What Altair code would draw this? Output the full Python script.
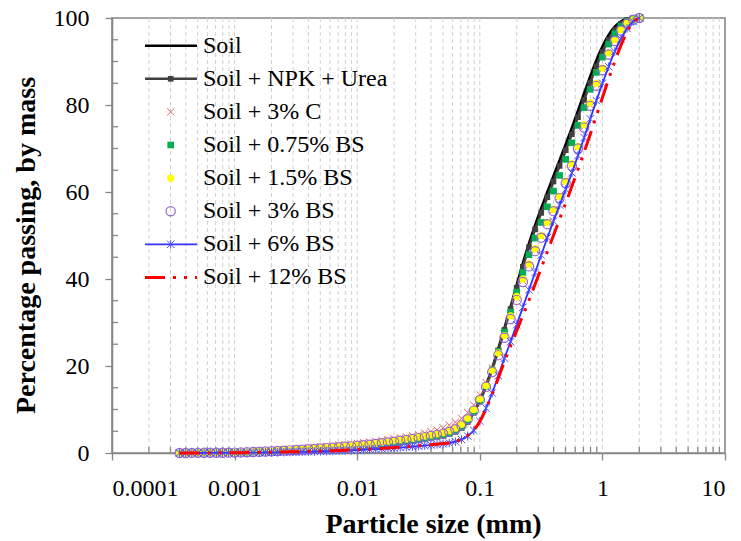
import altair as alt
import pandas as pd

# ---------------- data ----------------
SIZES_MM = [
    0.000356, 0.000399, 0.000448, 0.000502, 0.000564, 0.000632, 0.000710, 0.000796, 0.000893, 0.001002,
    0.001125, 0.001262, 0.001416, 0.001589, 0.001783, 0.002000, 0.002244, 0.002518, 0.002825, 0.003170,
    0.003557, 0.003991, 0.004477, 0.005024, 0.005637, 0.006325, 0.007096, 0.007962, 0.008934, 0.010024,
    0.011247, 0.012619, 0.014159, 0.015887, 0.017825, 0.020000, 0.022440, 0.025179, 0.028251, 0.031698,
    0.035566, 0.039905, 0.044774, 0.050238, 0.056368, 0.063246, 0.070963, 0.079621, 0.089337, 0.100237,
    0.112468, 0.126191, 0.141589, 0.158866, 0.178250, 0.200000, 0.224404, 0.251785, 0.282508, 0.316979,
    0.355656, 0.399052, 0.447744, 0.502377, 0.563677, 0.632456, 0.709627, 0.796214, 0.893367, 1.002374,
    1.124683, 1.261915, 1.415892, 1.588656, 1.782502, 2.000000,
]

SOIL = [
    0, 0.01, 0.02, 0.03, 0.04, 0.05, 0.06, 0.07, 0.08, 0.09,
    0.12, 0.16, 0.20, 0.25, 0.30, 0.36, 0.42, 0.48, 0.55, 0.62,
    0.70, 0.78, 0.86, 0.95, 1.04, 1.13, 1.22, 1.32, 1.42, 1.52,
    1.64, 1.77, 1.90, 2.05, 2.20, 2.36, 2.52, 2.70, 2.88, 3.08,
    3.30, 3.52, 3.76, 4.05, 4.45, 5.00, 5.90, 7.30, 9.40, 12.2,
    15.6, 19.5, 24.0, 28.7, 33.6, 38.6, 43.6, 48.2, 52.4, 56.3,
    60.0, 63.7, 67.3, 71.0, 74.8, 78.7, 82.7, 86.6, 90.3, 93.5,
    96.1, 98.0, 99.2, 99.8, 100, 100,
]

NPK_UREA = [
    0, 0.01, 0.02, 0.03, 0.04, 0.05, 0.06, 0.07, 0.08, 0.09,
    0.12, 0.16, 0.20, 0.25, 0.30, 0.35, 0.41, 0.47, 0.54, 0.61,
    0.68, 0.76, 0.84, 0.92, 1.01, 1.10, 1.19, 1.28, 1.38, 1.48,
    1.60, 1.72, 1.85, 1.99, 2.14, 2.30, 2.46, 2.63, 2.81, 3.00,
    3.20, 3.42, 3.66, 3.94, 4.32, 4.86, 5.75, 7.15, 9.25, 12.0,
    15.3, 19.2, 23.6, 28.3, 33.1, 38.0, 42.8, 47.3, 51.4, 55.2,
    58.8, 62.4, 66.0, 69.6, 73.3, 77.2, 81.2, 85.1, 88.9, 92.2,
    95.0, 97.2, 98.7, 99.5, 99.9, 100,
]

C_3 = [
    0, 0.02, 0.04, 0.06, 0.08, 0.10, 0.12, 0.14, 0.17, 0.20,
    0.25, 0.31, 0.38, 0.45, 0.53, 0.61, 0.70, 0.80, 0.90, 1.01,
    1.12, 1.23, 1.34, 1.46, 1.58, 1.70, 1.82, 1.95, 2.08, 2.22,
    2.38, 2.55, 2.72, 2.90, 3.09, 3.29, 3.50, 3.72, 3.95, 4.20,
    4.60, 4.95, 5.30, 5.80, 6.40, 7.10, 8.00, 9.30, 11.0, 13.4,
    16.2, 19.6, 23.4, 27.3, 31.5, 35.7, 39.6, 43.1, 46.6, 49.8,
    52.9, 55.9, 59.0, 62.4, 66.3, 70.3, 75.0, 80.0, 84.6, 88.2,
    91.8, 94.8, 97.2, 98.7, 99.6, 100,
]

BS_075 = [
    0, 0.01, 0.02, 0.03, 0.04, 0.05, 0.06, 0.07, 0.08, 0.09,
    0.13, 0.17, 0.22, 0.27, 0.32, 0.38, 0.44, 0.50, 0.57, 0.64,
    0.72, 0.80, 0.88, 0.96, 1.05, 1.14, 1.23, 1.33, 1.43, 1.54,
    1.66, 1.79, 1.92, 2.06, 2.21, 2.37, 2.53, 2.70, 2.88, 3.08,
    3.30, 3.53, 3.78, 4.08, 4.50, 5.10, 6.00, 7.40, 9.50, 12.2,
    15.4, 19.1, 23.3, 27.8, 32.4, 37.0, 41.5, 45.6, 49.4, 53.0,
    56.6, 60.2, 63.8, 67.5, 71.3, 75.3, 79.4, 83.6, 87.5, 91.0,
    94.0, 96.4, 98.1, 99.2, 99.8, 100,
]

BS_15 = [
    0, 0.01, 0.02, 0.03, 0.05, 0.06, 0.07, 0.08, 0.09, 0.10,
    0.15, 0.20, 0.26, 0.32, 0.38, 0.44, 0.50, 0.57, 0.65, 0.74,
    0.83, 0.92, 1.00, 1.10, 1.20, 1.30, 1.40, 1.50, 1.62, 1.75,
    1.90, 2.05, 2.20, 2.40, 2.60, 2.80, 3.00, 3.20, 3.40, 3.65,
    3.90, 4.15, 4.40, 4.70, 5.10, 5.70, 6.60, 8.00, 10.0, 12.5,
    15.5, 19.0, 23.0, 27.0, 31.5, 36.0, 40.0, 43.5, 47.0, 50.0,
    53.0, 56.0, 59.0, 62.5, 66.5, 70.5, 75.5, 80.5, 85.0, 88.5,
    92.0, 95.0, 97.3, 98.8, 99.6, 100,
]

BS_3 = [
    0, 0.01, 0.02, 0.03, 0.04, 0.05, 0.06, 0.07, 0.08, 0.09,
    0.13, 0.18, 0.23, 0.29, 0.35, 0.41, 0.47, 0.54, 0.61, 0.69,
    0.77, 0.86, 0.94, 1.03, 1.12, 1.22, 1.32, 1.42, 1.53, 1.65,
    1.78, 1.92, 2.07, 2.24, 2.42, 2.61, 2.80, 3.00, 3.20, 3.42,
    3.65, 3.90, 4.15, 4.45, 4.85, 5.45, 6.35, 7.75, 9.75, 12.2,
    15.2, 18.6, 22.5, 26.5, 30.8, 35.2, 39.3, 42.9, 46.4, 49.5,
    52.6, 55.6, 58.6, 62.0, 66.0, 70.0, 74.8, 79.8, 84.4, 88.0,
    91.6, 94.7, 97.1, 98.7, 99.6, 100,
]

BS_6 = [
    0, 0, 0, 0, 0.01, 0.01, 0.02, 0.02, 0.03, 0.04,
    0.05, 0.06, 0.08, 0.10, 0.12, 0.14, 0.16, 0.19, 0.22, 0.25,
    0.28, 0.31, 0.34, 0.38, 0.42, 0.46, 0.51, 0.56, 0.62, 0.68,
    0.75, 0.82, 0.90, 0.98, 1.07, 1.16, 1.26, 1.36, 1.47, 1.58,
    1.70, 1.82, 1.95, 2.10, 2.30, 2.60, 3.10, 3.90, 5.20, 7.30,
    10.3, 13.8, 17.8, 21.8, 25.6, 29.5, 33.5, 37.5, 41.5, 45.5,
    49.5, 53.3, 57.0, 60.6, 64.4, 68.4, 72.5, 76.8, 81.0, 85.0,
    88.8, 92.3, 95.2, 97.6, 99.2, 100,
]

BS_12 = [
    0, 0, 0.01, 0.01, 0.02, 0.02, 0.03, 0.04, 0.05, 0.06,
    0.07, 0.09, 0.11, 0.13, 0.15, 0.17, 0.20, 0.23, 0.26, 0.29,
    0.32, 0.36, 0.40, 0.44, 0.48, 0.53, 0.58, 0.64, 0.70, 0.76,
    0.83, 0.90, 0.98, 1.06, 1.15, 1.24, 1.34, 1.44, 1.55, 1.66,
    1.78, 1.90, 2.03, 2.18, 2.38, 2.68, 3.18, 3.98, 5.25, 7.30,
    10.2, 13.5, 17.2, 21.0, 24.6, 28.1, 31.6, 35.1, 38.8, 42.5,
    46.3, 50.0, 53.8, 57.5, 61.3, 65.2, 69.2, 73.3, 77.5, 81.8,
    86.0, 90.0, 93.7, 96.8, 99.0, 100,
]

LABELS = [
    "Soil", "Soil + NPK + Urea", "Soil + 3% C", "Soil + 0.75% BS",
    "Soil + 1.5% BS", "Soil + 3% BS", "Soil + 6% BS", "Soil + 12% BS",
]
VALUES = [SOIL, NPK_UREA, C_3, BS_075, BS_15, BS_3, BS_6, BS_12]

X_DECADES = [0.0001, 0.001, 0.01, 0.1, 1, 10]
Y_MAJOR = [0, 20, 40, 60, 80, 100]
Y_MINOR = [5, 10, 15, 25, 30, 35, 45, 50, 55, 65, 70, 75, 85, 90, 95]
X_MINOR = [m * d for d in [0.0001, 0.001, 0.01, 0.1, 1] for m in range(2, 10)]
X_GRID = [v for v in X_MINOR] + [0.001, 0.01, 0.1, 1]

# ---------------- styling ----------------
PLOT_W, PLOT_H = 613, 435
FONT = "Liberation Serif"
FRAME = "#878787"
X_CROSS = "M-1,-1L1,1M-1,1L1,-1"
STAR = "M-1,-1L1,1M-1,1L1,-1M0,-1.15L0,1.15"

# style per series: (line props or None, point props or None)
STYLES = [
    (dict(color="black", strokeWidth=2.6), None),
    (dict(color="#404040", strokeWidth=2.6), dict(shape="square", filled=True, color="#404040", size=32)),
    (None, dict(shape=X_CROSS, filled=False, color="#e46666", size=50, strokeWidth=1)),
    (None, dict(shape="square", filled=True, color="#00b050", size=44)),
    (None, dict(shape="circle", filled=True, color="#ffff00", size=52)),
    (None, dict(shape="circle", filled=False, color="#9966cc", size=85, strokeWidth=1.2)),
    (dict(color="#3333ff", strokeWidth=1.8), dict(shape=STAR, filled=False, color="#4d4dff", size=55, strokeWidth=1)),
    (dict(color="#ff0000", strokeWidth=3, strokeDash=[20, 8, 3, 8, 3, 8]), None),
]

X_ENC = alt.X(
    "x:Q",
    scale=alt.Scale(type="log", domain=[0.0001, 10], nice=False),
    axis=alt.Axis(
        values=X_DECADES, format="~g", title="Particle size (mm)", grid=False,
        tickSize=7, labelPadding=16, titleX=321, titleY=79, titleAlign="center",
        titleBaseline="alphabetic",
    ),
)
Y_ENC = alt.Y(
    "y:Q",
    scale=alt.Scale(domain=[0, 100], nice=False),
    axis=alt.Axis(
        values=Y_MAJOR, title="Percentage passing, by mass", grid=False,
        tickSize=7, labelPadding=16, titleAngle=270, titleX=-78, titleY=227,
        titleAlign="center", titleBaseline="alphabetic",
    ),
)

layers = []

# dashed vertical grid lines
grid_df = pd.DataFrame({"x": X_GRID})
layers.append(
    alt.Chart(grid_df).mark_rule(color="#d0d0d0", strokeWidth=1, strokeDash=[4, 3]).encode(
        x=X_ENC, y=alt.value(0), y2=alt.value(PLOT_H)
    )
)
# inside minor ticks on x
layers.append(
    alt.Chart(pd.DataFrame({"x": X_MINOR})).mark_rule(color=FRAME, strokeWidth=1.3).encode(
        x=X_ENC, y=alt.value(PLOT_H), y2=alt.value(PLOT_H - 6)
    )
)
# inside minor ticks on y
layers.append(
    alt.Chart(pd.DataFrame({"y": Y_MINOR})).mark_rule(color=FRAME, strokeWidth=1.3).encode(
        y=Y_ENC, x=alt.value(0), x2=alt.value(6)
    )
)

for label, vals, (lstyle, pstyle) in zip(LABELS, VALUES, STYLES):
    df = pd.DataFrame({"x": SIZES_MM, "y": vals})
    base = alt.Chart(df)
    if lstyle is not None:
        layers.append(base.mark_line(interpolate="monotone", **lstyle).encode(x=X_ENC, y=Y_ENC))
    if pstyle is not None:
        layers.append(base.mark_point(opacity=1, **pstyle).encode(x=X_ENC, y=Y_ENC))

# ---------------- legend (drawn by hand inside the plot) ----------------
LEG_TOP, LEG_STEP = 27.7, 33.1
LEG_X0, LEG_X1, LEG_XM, LEG_XT = 33, 85, 58.7, 91
one = alt.Data(values=[{}])
for i, (label, (lstyle, pstyle)) in enumerate(zip(LABELS, STYLES)):
    py = LEG_TOP + i * LEG_STEP
    if lstyle is not None:
        layers.append(
            alt.Chart(one).mark_rule(**lstyle).encode(
                x=alt.value(LEG_X0), x2=alt.value(LEG_X1), y=alt.value(py)
            )
        )
    if pstyle is not None:
        layers.append(
            alt.Chart(one).mark_point(opacity=1, **pstyle).encode(
                x=alt.value(LEG_XM), y=alt.value(py)
            )
        )
    layers.append(
        alt.Chart(one).mark_text(
            align="left", baseline="middle", font=FONT, fontSize=24, color="black"
        ).encode(x=alt.value(LEG_XT), y=alt.value(py), text=alt.value(label))
    )

chart = alt.layer(*layers).properties(
    width=PLOT_W,
    height=PLOT_H,
    padding={"left": 112, "top": 18, "right": 16, "bottom": 88},
    autosize=alt.AutoSizeParams(type="none"),
    background="white",
).configure_view(
    stroke=FRAME, strokeWidth=1.6
).configure_axis(
    domainColor=FRAME, domainWidth=1.6, tickColor=FRAME, tickWidth=1.3,
    labelFont=FONT, labelFontSize=24, labelColor="black",
    titleFont=FONT, titleFontSize=28, titleFontWeight="bold", titleColor="black",
)

chart.save("out.html", embed_options={"renderer": "svg", "actions": False})
